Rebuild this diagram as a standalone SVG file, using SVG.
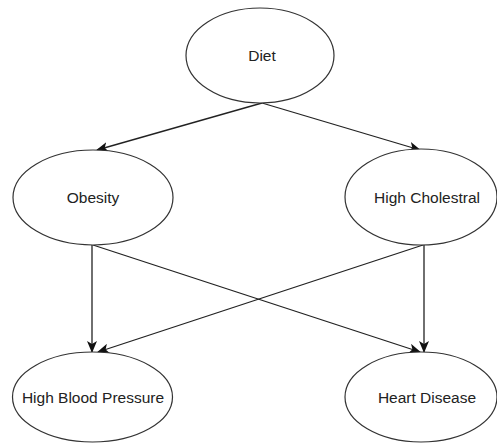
<svg xmlns="http://www.w3.org/2000/svg" width="497" height="445" viewBox="0 0 497 445">
  <defs>
    <style>
      .node ellipse { fill: #ffffff; stroke: #333333; stroke-width: 1.2; }
      .node text { font-family: "Liberation Sans", Arial, sans-serif; font-size: 15.5px; fill: #222222; text-anchor: middle; }
      .edge { fill: none; stroke: #222222; stroke-width: 1.3; marker-end: url(#arrow); }
    </style>
    <marker id="arrow" viewBox="0 0 12 10" refX="11" refY="5" markerWidth="12" markerHeight="10" markerUnits="userSpaceOnUse" orient="auto">
      <path d="M0,0 L12,5 L0,10 L3,5 Z" fill="#111111"/>
    </marker>
  </defs>
  <rect width="497" height="445" fill="#ffffff"/>

  <g id="connectors">
    <line class="edge" x1="262" y1="103" x2="97" y2="150"/>
    <line class="edge" x1="262" y1="103" x2="420" y2="150"/>
    <line class="edge" x1="92" y1="245" x2="92" y2="352"/>
    <line class="edge" x1="424" y1="245" x2="424" y2="352"/>
    <line class="edge" x1="93" y1="245" x2="420" y2="352"/>
    <line class="edge" x1="423" y1="245" x2="98" y2="352"/>
  </g>

  <g id="diet" class="node">
    <ellipse cx="260" cy="55.5" rx="74" ry="47.5"/>
    <text x="262" y="61">Diet</text>
  </g>
  <g id="obesity" class="node">
    <ellipse cx="93" cy="197.5" rx="80" ry="47.5"/>
    <text x="93" y="203">Obesity</text>
  </g>
  <g id="high-cholestral" class="node">
    <ellipse cx="421" cy="197" rx="76" ry="48"/>
    <text x="427" y="202.5">High Cholestral</text>
  </g>
  <g id="high-blood-pressure" class="node">
    <ellipse cx="92.5" cy="397" rx="80" ry="45"/>
    <text x="93" y="403">High Blood Pressure</text>
  </g>
  <g id="heart-disease" class="node">
    <ellipse cx="421" cy="397" rx="76" ry="45"/>
    <text x="427" y="403">Heart Disease</text>
  </g>
</svg>
